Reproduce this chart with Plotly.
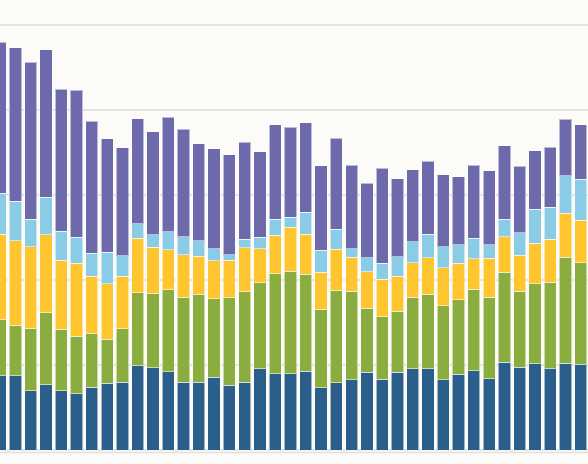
import plotly.graph_objects as go

# years (axis hidden in the reference, the crop shows 39 bars)
years = list(range(1970, 2009))

# stacked segments, bottom to top
seg_blue = [17.5, 17.5, 13.9, 15.4, 14.0, 13.2, 14.8, 15.7, 16.0, 19.8,
            19.3, 18.4, 16.0, 16.0, 17.1, 15.2, 16.0, 19.1, 18.0, 18.0,
            18.5, 14.7, 15.8, 16.5, 18.3, 16.7, 18.3, 19.1, 19.1, 16.5,
            17.8, 18.6, 16.8, 20.6, 19.5, 20.3, 19.1, 20.4, 20.1]
seg_green = [13.1, 11.8, 14.8, 16.9, 14.4, 13.6, 12.5, 10.4, 12.5, 17.2,
             17.6, 19.3, 20.0, 20.6, 18.5, 20.6, 21.2, 20.2, 23.5, 24.1,
             22.9, 18.4, 21.8, 20.9, 15.1, 14.6, 14.3, 16.9, 17.6, 17.4,
             17.6, 19.2, 19.1, 21.2, 17.8, 18.8, 20.4, 25.0, 24.0]
seg_yellow = [20.2, 19.9, 19.1, 18.4, 16.2, 17.2, 13.6, 13.0, 12.4, 12.8,
              10.8, 9.4, 9.9, 9.0, 8.9, 8.9, 10.4, 8.1, 9.0, 10.3,
              9.4, 8.7, 9.6, 8.0, 8.6, 8.9, 8.3, 8.1, 8.5, 9.0,
              8.6, 7.2, 9.2, 8.4, 8.5, 9.6, 10.1, 10.3, 10.0]
seg_lightblue = [9.6, 9.3, 6.5, 8.8, 6.9, 6.1, 5.4, 7.4, 4.8, 3.4,
                 3.0, 4.2, 4.3, 3.6, 2.8, 1.3, 2.0, 2.7, 3.8, 2.4,
                 5.2, 5.2, 4.7, 1.9, 3.2, 3.8, 4.6, 4.9, 5.6, 4.9,
                 4.3, 4.8, 3.2, 4.1, 5.3, 7.9, 7.5, 8.8, 9.6]
seg_purple = [35.5, 36.2, 36.9, 34.7, 33.4, 34.6, 31.0, 26.7, 25.4, 24.8,
              24.2, 27.0, 25.3, 22.9, 23.6, 23.5, 22.8, 20.1, 22.2, 21.2,
              21.0, 19.9, 21.5, 19.7, 17.6, 22.3, 18.3, 16.9, 17.1, 17.0,
              16.0, 17.2, 17.4, 17.3, 15.7, 13.8, 14.1, 13.3, 12.8]

series = [
    (seg_blue, "#2c5e8c"),
    (seg_green, "#8bad3f"),
    (seg_yellow, "#fec52e"),
    (seg_lightblue, "#8acbe5"),
    (seg_purple, "#6c6aab"),
]

fig = go.Figure()
for vals, col in series:
    fig.add_trace(go.Bar(
        x=years, y=vals,
        marker=dict(color=col, line=dict(color="rgba(255,255,255,0.55)", width=1)),
        showlegend=False,
    ))

fig.update_layout(
    barmode="stack",
    bargap=0.2,
    width=588, height=464,
    margin=dict(l=0, r=0, t=0, b=0),
    paper_bgcolor="#fcfbf8",
    plot_bgcolor="#fcfbf8",
    xaxis=dict(range=[1969.99, 2008.47], showticklabels=False, showgrid=False,
               zeroline=False, ticks=""),
    yaxis=dict(range=[-3.29, 105.88], tick0=0, dtick=20, showticklabels=False,
               showgrid=True, gridcolor="#e5e3df", gridwidth=1.5,
               zeroline=False, ticks=""),
)
# faint base line just under the bars
fig.add_shape(type="line", xref="paper", x0=0, x1=1, yref="y", y0=-0.6, y1=-0.6,
              line=dict(color="#e2e0dc", width=1.5))

# drop the browser's default page margin so the chart fills the window
fig.write_html("out.html",
               config={"displayModeBar": False},
               post_script="document.body.style.margin='0';"
                           "document.body.style.background='#fcfbf8';")
